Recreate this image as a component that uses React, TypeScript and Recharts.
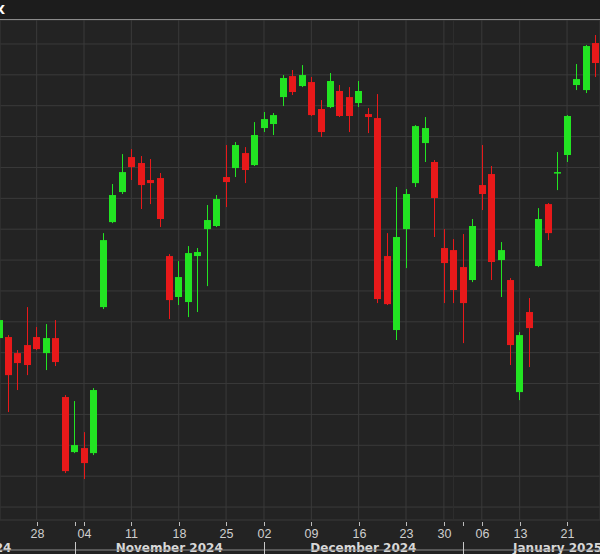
import React from 'react';
import { ComposedChart, Bar, XAxis, YAxis, CartesianGrid, ReferenceLine } from 'recharts';

// S&P 500 daily candles
const dates = [
  '2024-10-22', '2024-10-23', '2024-10-24', '2024-10-25', '2024-10-28', '2024-10-29', '2024-10-30', '2024-10-31',
  '2024-11-01', '2024-11-04', '2024-11-05', '2024-11-06', '2024-11-07', '2024-11-08', '2024-11-11', '2024-11-12',
  '2024-11-13', '2024-11-14', '2024-11-15', '2024-11-18', '2024-11-19', '2024-11-20', '2024-11-21', '2024-11-22',
  '2024-11-25', '2024-11-26', '2024-11-27', '2024-11-29', '2024-12-02', '2024-12-03', '2024-12-04', '2024-12-05',
  '2024-12-06', '2024-12-09', '2024-12-10', '2024-12-11', '2024-12-12', '2024-12-13', '2024-12-16', '2024-12-17',
  '2024-12-18', '2024-12-19', '2024-12-20', '2024-12-23', '2024-12-24', '2024-12-26', '2024-12-27', '2024-12-30',
  '2024-12-31', '2025-01-02', '2025-01-03', '2025-01-06', '2025-01-07', '2025-01-08', '2025-01-10', '2025-01-13',
  '2025-01-14', '2025-01-15', '2025-01-16', '2025-01-17', '2025-01-21', '2025-01-22', '2025-01-23', '2025-01-24',
];

const opens = [
  5834.2, 5835.2, 5819.6, 5827.4, 5835.2, 5819.6, 5834.2, 5776.9,
  5723.4, 5727.3, 5722.4, 5864.3, 5946.9, 5976.1, 6010.1, 6004.3,
  5987.8, 5989.7, 5913.9, 5874.1, 5869.2, 5913.9, 5940.1, 5943.1,
  5990.7, 5999.4, 6014.0, 6002.3, 6038.3, 6042.2, 6068.4, 6088.8,
  6079.1, 6083.0, 6056.8, 6058.7, 6074.3, 6068.4, 6062.6, 6051.9,
  6048.0, 5913.9, 5842.0, 5940.1, 5984.8, 6023.7, 6005.3, 5921.7,
  5919.7, 5903.2, 5890.6, 5982.9, 5993.6, 5910.0, 5890.6, 5781.7,
  5859.5, 5904.2, 5964.4, 5994.6, 6012.1, 6080.1, 6075.2, 6120.9,
];

const highs = [
  5859.5, 5837.1, 5822.5, 5864.3, 5844.9, 5847.8, 5851.7, 5778.8,
  5773.0, 5742.8, 5785.6, 5936.2, 5983.9, 6013.0, 6017.9, 6011.1,
  6008.2, 5994.6, 5915.8, 5909.0, 5923.6, 5921.7, 5963.5, 5973.2,
  6021.8, 6024.7, 6019.8, 6044.1, 6053.9, 6052.9, 6089.8, 6094.7,
  6099.5, 6087.9, 6065.5, 6091.8, 6080.1, 6078.1, 6084.0, 6057.7,
  6071.3, 5936.2, 5981.0, 5979.0, 6041.2, 6049.0, 6007.2, 5940.1,
  5930.4, 5935.3, 5949.9, 6021.8, 6001.4, 5927.5, 5892.5, 5840.0,
  5873.1, 5960.5, 5965.4, 6015.0, 6050.9, 6100.5, 6119.0, 6128.7,
];

const lows = [
  5830.3, 5762.3, 5783.7, 5798.2, 5822.5, 5803.1, 5807.0, 5703.0,
  5722.4, 5697.2, 5720.5, 5862.4, 5945.9, 5974.2, 5987.8, 5959.6,
  5964.4, 5942.1, 5852.7, 5866.3, 5854.6, 5859.5, 5884.7, 5942.1,
  5961.5, 5990.7, 5984.8, 6001.4, 6034.4, 6031.5, 6059.7, 6070.4,
  6078.1, 6050.0, 6029.6, 6057.7, 6049.0, 6034.4, 6058.7, 6033.4,
  5868.2, 5866.3, 5832.3, 5902.2, 5981.0, 6005.3, 5932.4, 5868.2,
  5868.2, 5829.3, 5888.6, 5958.6, 5890.6, 5874.1, 5808.0, 5773.9,
  5806.0, 5903.2, 5929.4, 5978.0, 6005.3, 6075.2, 6072.3, 6087.9,
];

const closes = [
  5851.7, 5798.2, 5809.9, 5808.0, 5823.5, 5834.2, 5810.9, 5704.9,
  5730.2, 5712.7, 5783.7, 5929.4, 5973.2, 5995.5, 6000.4, 5982.9,
  5984.8, 5949.9, 5871.1, 5893.5, 5916.8, 5917.8, 5948.9, 5969.3,
  5985.8, 6021.8, 5997.5, 6031.5, 6047.0, 6050.9, 6086.9, 6073.3,
  6089.8, 6050.9, 6034.4, 6084.0, 6050.0, 6050.0, 6074.3, 6049.0,
  5872.1, 5867.2, 5932.4, 5974.2, 6040.2, 6038.3, 5970.3, 5907.1,
  5880.9, 5868.2, 5943.1, 5974.2, 5908.1, 5919.7, 5827.4, 5837.1,
  5843.9, 5949.9, 5936.2, 5995.5, 6050.0, 6085.9, 6118.0, 6101.5,
];

// weekly date labels under the axis
const weekTicks = [
  '2024-10-28', '2024-11-04', '2024-11-11', '2024-11-18', '2024-11-25', '2024-12-02', '2024-12-09',
  '2024-12-16', '2024-12-23', '2024-12-30', '2025-01-06', '2025-01-13', '2025-01-21',
];
const yearEnd = '2024-12-31';

// month band: first trading day shown, and trading days in each month
const monthNames = ['October 2024', 'November 2024', 'December 2024', 'January 2025'];
const monthFirstDays = ['2024-11-01', '2024-12-02', '2025-01-02'];
const monthTradingDays = [23, 20, 21, 20];

const priceTicks = [5670, 5700, 5730, 5760, 5790, 5820, 5850, 5880, 5910, 5940, 5970, 6000, 6030, 6060, 6090, 6120];

const GREEN = '#22e422';
const RED = '#e8191a';
const CHART_W = 600;
const CHART_H = 554;
const AXIS_H = 34;
const AXIS_Y = CHART_H - AXIS_H;

const data = dates.map((d, i) => ({
  i,
  date: d,
  open: opens[i],
  high: highs[i],
  low: lows[i],
  close: closes[i],
  range: [lows[i], highs[i]],
}));

const weekIdx = weekTicks.map(d => dates.indexOf(d));
const sepIdx = monthFirstDays.map(d => dates.indexOf(d));
const axisTicks = Array.from(new Set([...weekIdx, ...sepIdx])).sort((a, b) => a - b);

// month label centres (in candle index units)
const monthStarts = [sepIdx[0] - monthTradingDays[0], ...sepIdx];
const monthCentres = monthStarts.map((s, k) => s + monthTradingDays[k] / 2);

const Candle = (props: any) => {
  const { x, y, width, height, payload } = props;
  if (!payload) return null;
  const top = Math.min(y, y + height);
  const h = Math.abs(height);
  const { open, close, high, low } = payload;
  const ratio = high === low ? 0 : h / (high - low);
  const yOf = (v: number) => top + (high - v) * ratio;
  const color = close >= open ? GREEN : RED;
  const c = Math.round(x + width / 2);
  const bTop = yOf(Math.max(open, close));
  const bBot = yOf(Math.min(open, close));
  return (
    <g>
      <line x1={c + 0.5} x2={c + 0.5} y1={top} y2={top + h} stroke={color} strokeWidth={1} />
      <rect x={c - 3} y={bTop} width={7} height={Math.max(1.5, bBot - bTop)} fill={color} />
    </g>
  );
};

const AxisTick = (props: any) => {
  const { x, payload } = props;
  const idx = payload.value;
  const date = dates[idx];
  const c = Math.round(x) + 0.5;
  const isWeek = weekTicks.includes(date);
  const isSep = monthFirstDays.includes(date);
  const y = AXIS_Y;
  return (
    <g>
      <line x1={c} x2={c} y1={y + 2} y2={y + 6} stroke="#bdbdbd" strokeWidth={1} />
      {isWeek && (
        <text x={c} y={y + 18} textAnchor="middle" fill="#cfcfcf" fontSize={12.5}
          fontFamily="'Liberation Sans', Arial, sans-serif">
          {date.slice(8)}
        </text>
      )}
      {isSep && <line x1={c} x2={c} y1={y + 22} y2={y + 34} stroke="#c8c8c8" strokeWidth={1} />}
    </g>
  );
};

const MonthLabel = (props: any) => {
  const { viewBox, text } = props;
  if (!viewBox) return null;
  return (
    <text x={viewBox.x} y={AXIS_Y + 32} textAnchor="middle" fill="#d8d8d8"
      fontSize={12} fontWeight="bold" fontFamily="'DejaVu Sans', sans-serif">
      {text}
    </text>
  );
};

export default function App() {
  return (
    <div style={{ position: 'relative', width: CHART_W, height: CHART_H, background: '#232323', overflow: 'hidden' }}>
      <style>{'body{margin:0}'}</style>
      <ComposedChart width={CHART_W} height={CHART_H} data={data} margin={{ top: 20, right: 0, bottom: 0, left: 0 }}>
        <XAxis
          xAxisId="main"
          type="number"
          dataKey="i"
          domain={[0.13, 63.48]}
          allowDataOverflow
          ticks={axisTicks}
          interval={0}
          height={AXIS_H}
          tickLine={false}
          axisLine={{ stroke: '#8c8c8c', strokeWidth: 1 }}
          tick={<AxisTick />}
        />
        <XAxis xAxisId="grid" type="number" dataKey="i" domain={[0.13, 63.48]} allowDataOverflow ticks={weekIdx} interval={0} hide />
        <XAxis xAxisId="year" type="number" dataKey="i" domain={[0.13, 63.48]} allowDataOverflow ticks={[dates.indexOf(yearEnd)]} interval={0} hide />
        <YAxis type="number" domain={[5657.4, 6143.3]} allowDataOverflow ticks={priceTicks} hide />
        <CartesianGrid xAxisId="grid" stroke="#3a3a3a" strokeWidth={1} />
        <CartesianGrid xAxisId="year" horizontal={false} stroke="#2f2f2f" strokeWidth={1} />
        <Bar xAxisId="main" dataKey="range" barSize={7} shape={<Candle />} isAnimationActive={false} />
        {monthCentres.map((m, k) => (
          <ReferenceLine key={monthNames[k]} xAxisId="main" x={m} ifOverflow="visible" stroke="none"
            label={<MonthLabel text={monthNames[k]} />} />
        ))}
      </ComposedChart>
      <div style={{ position: 'absolute', left: 0, top: 0, width: CHART_W, height: 19, background: '#1c1c1c', borderBottom: '1px solid #8a8a8a' }}>
        <span style={{ position: 'absolute', right: 595, top: 2, color: '#ffffff', fontSize: 13, fontWeight: 'bold', fontFamily: "'DejaVu Sans', sans-serif" }}>
          .SPX
        </span>
      </div>
    </div>
  );
}
